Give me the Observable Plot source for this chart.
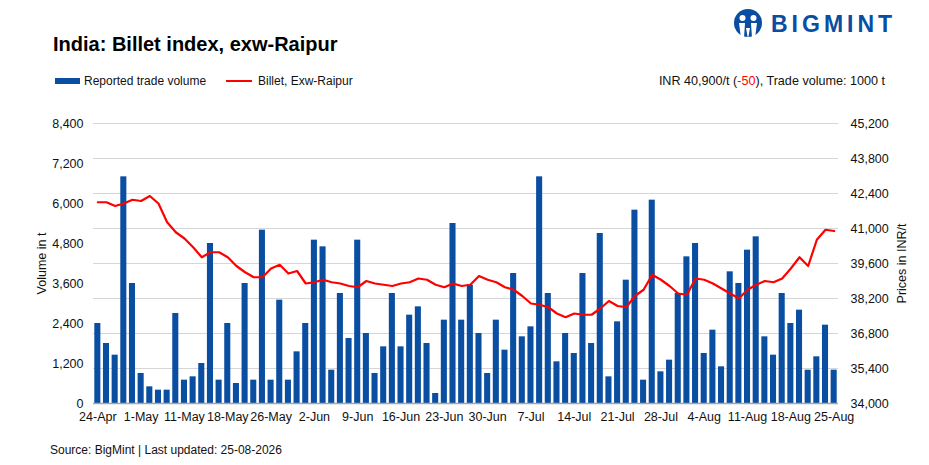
<!DOCTYPE html>
<html>
<head>
<meta charset="utf-8">
<script src="https://cdn.jsdelivr.net/npm/d3@7"></script>
<script src="https://cdn.jsdelivr.net/npm/@observablehq/plot@0.6"></script>
<style>
  html, body { margin: 0; padding: 0; background: #fff; }
  body { width: 929px; height: 465px; overflow: hidden; font-family: "Liberation Sans", Arial, sans-serif; color: #111; }
  #header { position: relative; height: 100px; }
  #title { position: absolute; left: 53px; top: 33px; font-size: 20px; font-weight: bold; color: #000; }
  .leg { position: absolute; top: 74px; font-size: 12px; color: #111; display: flex; align-items: center; }
  .sw-bar { width: 25px; height: 6px; background: #0a4ea2; margin-right: 4px; }
  .sw-line { width: 26px; height: 2px; background: #ff0000; margin-right: 6px; }
  #note { position: absolute; right: 44px; top: 74px; font-size: 12.6px; color: #111; }
  #logo { position: absolute; left: 733px; top: 8px; display: flex; align-items: center; color: #0a4ea2; }
  #logo span { font-size: 23px; font-weight: 900; letter-spacing: 4px; margin-left: 8px; font-family: "Liberation Sans", Arial, sans-serif; }
  #footer { position: absolute; left: 50px; top: 443px; font-size: 12px; color: #111; }
</style>
</head>
<body>
<div id="header">
  <div id="title">India: Billet index, exw-Raipur</div>
  <div id="logo">
    <svg width="30" height="32" viewBox="0 0 30 32">
      <circle cx="15" cy="15" r="14" fill="#0a4ea2"/>
      <circle cx="9.5" cy="10" r="3" fill="#fff"/>
      <circle cx="20.5" cy="10" r="3" fill="#fff"/>
      <path d="M6 15 L12 15 L11 30 L8 30 Z" fill="#fff"/>
      <path d="M18 15 L24 15 L22 30 L19 30 Z" fill="#fff"/>
      <path d="M13 20 L17 20 L15 31 Z" fill="#fff"/>
    </svg>
    <span>BIGMINT</span>
  </div>
  <div class="leg" style="left:55px"><div class="sw-bar"></div>Reported trade volume</div>
  <div class="leg" style="left:226px"><div class="sw-line"></div>Billet, Exw-Raipur</div>
  <div id="note">INR 40,900/t (<span style="color:#ff0000">-50</span>), Trade volume: 1000 t</div>
</div>
<div id="chart"></div>
<div id="footer">Source: BigMint | Last updated: 25-08-2026</div>
<script>
// ---- data ----
const tickLabels = ["24-Apr","1-May","11-May","18-May","26-May","2-Jun","9-Jun","16-Jun","23-Jun","30-Jun","7-Jul","14-Jul","21-Jul","28-Jul","4-Aug","11-Aug","18-Aug","25-Aug"];

const volume = [2400,1800,1450,6800,3600,900,500,400,400,2700,
  700,800,1200,4800,700,2400,600,3600,700,5200,
  700,3100,700,1550,2400,4900,4700,1000,3300,1950,
  4900,2100,900,1700,3300,1700,2650,2900,1800,300,
  2500,5400,2500,3550,2100,900,2500,1600,3900,2000,
  2300,6800,3300,1250,2100,1500,3900,1800,5100,800,
  2450,3700,5800,700,6100,950,1300,3300,4400,4800,
  1500,2200,1100,3950,3600,4600,5000,2000,1450,3300,
  2400,2800,1000,1400,2350,1000];

const price = [42050,42050,41900,42000,42150,42100,42300,42000,41250,40850,
  40600,40250,39850,40050,40050,39850,39500,39250,39050,39050,
  39400,39550,39200,39300,38800,38850,38950,38850,
  38800,38700,38650,38900,38800,38750,38700,38800,38850,39000,
  38950,38750,38650,38800,38700,38750,39100,38950,38850,38650,
  38550,38300,38000,37950,37850,37600,37450,37600,37550,37550,
  37800,38100,37900,37850,38300,38550,39150,38950,38700,38400,
  38350,39000,38950,38800,38600,38400,38200,38550,38750,38900,
  38850,39000,39400,39850,39500,40550,40950,40900];

const volTicks = [0,1200,2400,3600,4800,6000,7200,8400];
const priceTicks = [34000,35400,36800,38200,39600,41000,42400,43800,45200];

// ---- build ----
const pMin = 34000, pMax = 45200, vMax = 8400;
const toY = p => (p - pMin) / (pMax - pMin) * vMax;
const fromY = v => v / vMax * (pMax - pMin) + pMin;
const fmt = d3.format(",");

const rows = volume.map((v, i) => ({i, v, p: price[i], py: toY(price[i])}));
const idx = rows.map(d => d.i);

const chart = Plot.plot({
  width: 929,
  height: 335,
  marginLeft: 93,
  marginRight: 91,
  marginTop: 23,
  marginBottom: 32,
  style: {fontFamily: "Liberation Sans, Arial, sans-serif", fontSize: "12.5px", color: "#111", background: "#fff"},
  x: {type: "band", domain: idx, paddingInner: 0.3, paddingOuter: 0.15},
  y: {domain: [0, vMax]},
  marks: [
    Plot.gridY(priceTicks.map(toY), {stroke: "#d6d6d6", strokeOpacity: 1, strokeWidth: 1}),
    Plot.barY(rows, {x: "i", y: "v", fill: "#0a4ea2"}),
    Plot.ruleY([0], {stroke: "#a6a6a6", strokeWidth: 1.5}),
    Plot.line(rows, {x: "i", y: "py", stroke: "#ff0000", strokeWidth: 2.2, curve: "linear"}),
    Plot.axisX({ticks: idx.filter(i => i % 5 === 0), tickFormat: i => tickLabels[i / 5], tickSize: 0, tickPadding: 9, label: null, fontSize: 12.5}),
    Plot.axisY({ticks: volTicks, tickFormat: fmt, tickSize: 0, tickPadding: 10, label: "Volume in t", labelAnchor: "center", labelOffset: 56, labelArrow: "none"}),
    Plot.axisY({anchor: "right", ticks: priceTicks.map(toY), tickFormat: v => fmt(Math.round(fromY(v))), tickSize: 0, tickPadding: 12, label: "Prices in INR/t", labelAnchor: "center", labelOffset: 67, labelArrow: "none"})
  ]
});
document.getElementById("chart").appendChild(chart);
</script>
</body>
</html>
